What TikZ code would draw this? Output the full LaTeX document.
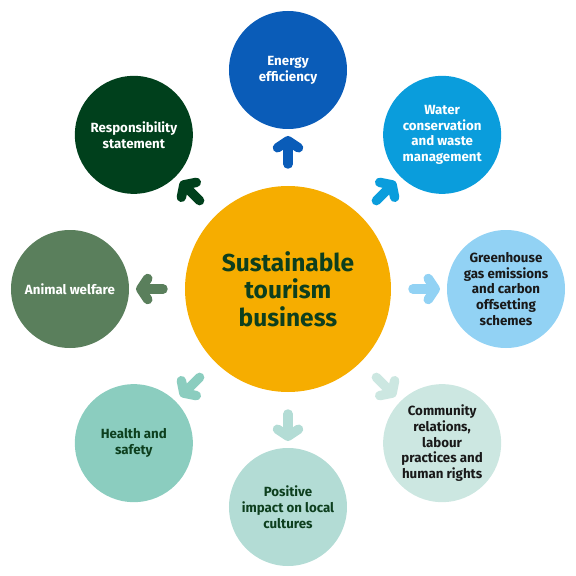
\documentclass[tikz,border=0pt]{standalone}
\usepackage{fontspec}
\setmainfont{Fira Sans}
\usetikzlibrary{arrows.meta}
\definecolor{TourismOrange}{HTML}{F6AD00}
\definecolor{TourismInk}{HTML}{0D3F1E}
\definecolor{TourismNavy}{HTML}{0A5CB8}
\definecolor{TourismBlue}{HTML}{0A9DDC}
\definecolor{TourismSky}{HTML}{92D2F4}
\definecolor{TourismMist}{HTML}{CCE7E1}
\definecolor{TourismSea}{HTML}{B3DCD5}
\definecolor{TourismTeal}{HTML}{8BCDBF}
\definecolor{TourismMoss}{HTML}{5A7F5C}
\definecolor{TourismForest}{HTML}{00401C}

\begin{document}
\begin{tikzpicture}[x=1pt, y=1pt,
  topic/.style={circle, minimum size=118pt, inner sep=0pt, align=center,
    text=white, font=\bfseries\fontsize{13.3}{15.8}\selectfont},
  spoke/.style={line width=9.5pt, line cap=round, shorten <=125pt, shorten >=66pt,
    -{Straight Barb[length=7pt, width=21pt, round]}}]
  \useasboundingbox (-288,-287) rectangle (288,289);

  % Central business
  \node[circle, minimum size=206pt, inner sep=0pt, fill=TourismOrange, text=TourismInk,
    align=center, font=\bfseries\fontsize{24.5}{27.5}\selectfont] (hub) at (0,0)
    {Sustainable\\tourism\\business};

  % Topics round the hub
  \node[topic, fill=TourismNavy] (energy) at (90:219) {Energy\\efficiency};
  \node[topic, fill=TourismBlue] (water) at (45:218) {Water\\conservation\\and waste\\management};
  \node[topic, fill=TourismSky, text=black!90] (greenhouse) at (0:218)
    {Greenhouse\\gas emissions\\and carbon\\offsetting\\schemes};
  \node[topic, fill=TourismMist, text=black!90] (community) at (-45:218)
    {Community\\relations,\\labour\\practices and\\human rights};
  \node[topic, fill=TourismSea, text=TourismInk] (culture) at (-90:218)
    {Positive\\impact on local\\cultures};
  \node[topic, fill=TourismTeal, text=TourismInk] (health) at (-135:218) {Health and\\safety};
  \node[topic, fill=TourismMoss] (animal) at (180:218) {Animal welfare};
  \node[topic, fill=TourismForest] (responsibility) at (135:218) {Responsibility\\statement};

  % Arrows out of the hub
  \foreach \n/\c in {energy/TourismNavy, water/TourismBlue, greenhouse/TourismSky,
    community/TourismMist, culture/TourismSea, health/TourismTeal,
    animal/TourismMoss, responsibility/TourismForest}
    {\draw[spoke, \c] (hub.center) -- (\n.center);}
\end{tikzpicture}
\end{document}
